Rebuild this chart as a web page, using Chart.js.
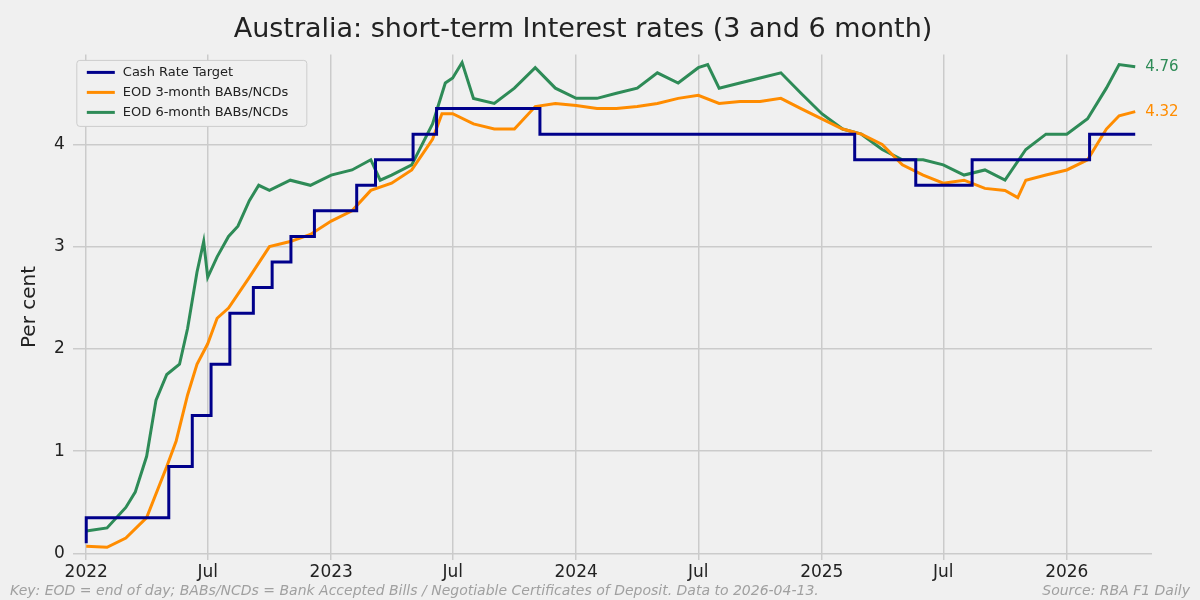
<!DOCTYPE html>
<html>
<head>
<meta charset="utf-8">
<script src="https://cdn.jsdelivr.net/npm/chart.js@4"></script>
<style>
  html, body { margin: 0; padding: 0; background: #f0f0f0; }
  #wrap { width: 1200px; height: 600px; }
</style>
</head>
<body>
<div id="wrap"><canvas id="chart" width="1200" height="600"></canvas></div>
<script>
// cash rate target (step changes)
const cashDates = ['2022-01-01','2022-05-04','2022-06-08','2022-07-06','2022-08-03','2022-09-07','2022-10-05','2022-11-02','2022-12-07','2023-02-08','2023-03-08','2023-05-03','2023-06-07','2023-11-08','2025-02-19','2025-05-21','2025-08-13','2026-02-04','2026-03-18','2026-04-13'];
const cashValues = [0.10,0.35,0.85,1.35,1.85,2.35,2.60,2.85,3.10,3.35,3.60,3.85,4.10,4.35,4.10,3.85,3.60,3.85,4.10,4.10];

// EOD 3-month BABs/NCDs
const bab3Dates = ['2022-01-01','2022-02-01','2022-03-01','2022-04-01','2022-05-01','2022-05-15','2022-06-01','2022-06-15','2022-07-01','2022-07-15','2022-08-01','2022-09-01','2022-10-01','2022-11-01','2022-12-01','2023-01-01','2023-02-01','2023-03-01','2023-04-01','2023-05-01','2023-06-01','2023-06-15','2023-07-01','2023-08-01','2023-09-01','2023-10-01','2023-11-01','2023-12-01','2024-01-01','2024-02-01','2024-03-01','2024-04-01','2024-05-01','2024-06-01','2024-07-01','2024-08-01','2024-09-01','2024-10-01','2024-11-01','2024-12-01','2025-01-01','2025-02-01','2025-03-01','2025-04-01','2025-05-01','2025-06-01','2025-07-01','2025-08-01','2025-09-01','2025-10-01','2025-10-20','2025-11-01','2025-12-01','2026-01-01','2026-02-01','2026-03-01','2026-03-20','2026-04-13'];
const bab3Values = [0.07,0.06,0.15,0.35,0.85,1.10,1.55,1.85,2.05,2.30,2.40,2.70,3.00,3.05,3.12,3.25,3.35,3.55,3.62,3.75,4.05,4.30,4.30,4.20,4.15,4.15,4.37,4.40,4.38,4.35,4.35,4.37,4.40,4.45,4.48,4.40,4.42,4.42,4.45,4.35,4.25,4.15,4.10,4.00,3.80,3.70,3.62,3.65,3.57,3.55,3.48,3.65,3.70,3.75,3.85,4.15,4.28,4.32];

// EOD 6-month BABs/NCDs
const bab6Dates = ['2022-01-01','2022-02-01','2022-03-01','2022-03-15','2022-04-01','2022-04-15','2022-05-01','2022-05-20','2022-06-01','2022-06-15','2022-06-25','2022-07-01','2022-07-15','2022-08-01','2022-08-15','2022-09-01','2022-09-15','2022-10-01','2022-11-01','2022-12-01','2023-01-01','2023-02-01','2023-03-01','2023-03-15','2023-04-01','2023-05-01','2023-06-01','2023-06-20','2023-07-01','2023-07-15','2023-08-01','2023-09-01','2023-10-01','2023-11-01','2023-12-01','2024-01-01','2024-02-01','2024-03-01','2024-04-01','2024-05-01','2024-06-01','2024-07-01','2024-07-15','2024-08-01','2024-09-01','2024-10-01','2024-11-01','2024-12-01','2025-01-01','2025-02-01','2025-03-01','2025-04-01','2025-05-01','2025-06-01','2025-07-01','2025-08-01','2025-09-01','2025-10-01','2025-11-01','2025-12-01','2026-01-01','2026-02-01','2026-03-01','2026-03-20','2026-04-13'];
const bab6Values = [0.22,0.25,0.45,0.60,0.95,1.50,1.75,1.85,2.20,2.75,3.05,2.70,2.90,3.10,3.20,3.45,3.60,3.55,3.65,3.60,3.70,3.75,3.85,3.65,3.70,3.80,4.20,4.60,4.65,4.80,4.45,4.40,4.55,4.75,4.55,4.45,4.45,4.50,4.55,4.70,4.60,4.75,4.78,4.55,4.60,4.65,4.70,4.50,4.30,4.15,4.10,3.95,3.85,3.85,3.80,3.70,3.75,3.65,3.95,4.10,4.10,4.25,4.55,4.78,4.76];

const tickDates = ['2022-01-01','2022-07-01','2023-01-01','2023-07-01','2024-01-01','2024-07-01','2025-01-01','2025-07-01','2026-01-01'];
const tickLabels = ['2022','Jul','2023','Jul','2024','Jul','2025','Jul','2026'];

const t0 = Date.UTC(2022, 0, 1);
const day = s => (Date.parse(s) - t0) / 86400000;
const pts = (d, v) => d.map((s, i) => ({ x: day(s), y: v[i] }));
const tickDays = tickDates.map(day);

// legend drawn inside the plot, top left, with a box
const insideLegend = {
  id: 'insideLegend',
  afterDatasetsDraw(chart) {
    const c = chart.ctx, a = chart.chartArea;
    const x = a.left + 4, y = a.top + 6;
    c.save();
    c.fillStyle = '#f0f0f0';
    c.strokeStyle = '#cccccc';
    c.lineWidth = 1;
    c.beginPath();
    c.roundRect(x, y, 230, 66, 3);
    c.fill(); c.stroke();
    c.font = '13px "DejaVu Sans"';
    c.textBaseline = 'middle';
    chart.data.datasets.forEach((d, i) => {
      const ly = y + 12 + i * 20;
      c.strokeStyle = d.borderColor;
      c.lineWidth = 3;
      c.beginPath(); c.moveTo(x + 10, ly); c.lineTo(x + 38, ly); c.stroke();
      c.fillStyle = '#222';
      c.fillText(d.label, x + 46, ly);
    });
    c.restore();
  }
};

const extras = {
  id: 'extras',
  afterDraw(chart) {
    const c = chart.ctx;
    c.save();
    c.font = '15px "DejaVu Sans"';
    c.textBaseline = 'middle';
    [1, 2].forEach(i => {
      const m = chart.getDatasetMeta(i).data;
      const p = m[m.length - 1];
      const v = chart.data.datasets[i].data.slice(-1)[0].y;
      c.fillStyle = chart.data.datasets[i].borderColor;
      c.fillText(v.toFixed(2), p.x + 10, p.y);
    });
    c.font = 'italic 14px "DejaVu Sans"';
    c.fillStyle = '#a0a0a0';
    c.textBaseline = 'bottom';
    c.textAlign = 'left';
    c.fillText('Key: EOD = end of day; BABs/NCDs = Bank Accepted Bills / Negotiable Certificates of Deposit. Data to 2026-04-13.', 10, 598);
    c.textAlign = 'right';
    c.fillText('Source: RBA F1 Daily', 1190, 598);
    c.restore();
  }
};

new Chart(document.getElementById('chart').getContext('2d'), {
  type: 'line',
  data: {
    datasets: [
      { label: 'Cash Rate Target', data: pts(cashDates, cashValues), borderColor: '#00008b', stepped: 'after', borderWidth: 3, pointRadius: 0 },
      { label: 'EOD 3-month BABs/NCDs', data: pts(bab3Dates, bab3Values), borderColor: '#ff8c00', borderWidth: 3, pointRadius: 0, tension: 0 },
      { label: 'EOD 6-month BABs/NCDs', data: pts(bab6Dates, bab6Values), borderColor: '#2e8b57', borderWidth: 3, pointRadius: 0, tension: 0 }
    ]
  },
  options: {
    responsive: false,
    animation: false,
    layout: { padding: { left: 14, right: 48, top: 0, bottom: 14 } },
    plugins: {
      title: { display: true, text: 'Australia: short-term Interest rates (3 and 6 month)', color: '#222', font: { family: 'DejaVu Sans', size: 27, weight: 'normal' }, padding: { top: 14, bottom: 8 } },
      legend: { display: false },
      tooltip: { enabled: false }
    },
    scales: {
      x: {
        type: 'linear', min: -20, max: 1588,
        afterBuildTicks: ax => { ax.ticks = tickDays.map(v => ({ value: v })); },
        ticks: { color: '#222', font: { family: 'DejaVu Sans', size: 17 }, callback: (v) => tickLabels[tickDays.indexOf(v)], maxRotation: 0, autoSkip: false },
        grid: { color: '#cbcbcb', lineWidth: 1.5, drawTicks: false },
        border: { display: false }
      },
      y: {
        min: -0.06, max: 4.88,
        title: { display: true, text: 'Per cent', color: '#222', font: { family: 'DejaVu Sans', size: 20 } },
        afterBuildTicks: ax => { ax.ticks = [0, 1, 2, 3, 4].map(v => ({ value: v })); },
        ticks: { color: '#222', font: { family: 'DejaVu Sans', size: 17 }, padding: 8 },
        grid: { color: '#cbcbcb', lineWidth: 1.5, drawTicks: false },
        border: { display: false }
      }
    }
  },
  plugins: [insideLegend, extras]
});
</script>
</body>
</html>
